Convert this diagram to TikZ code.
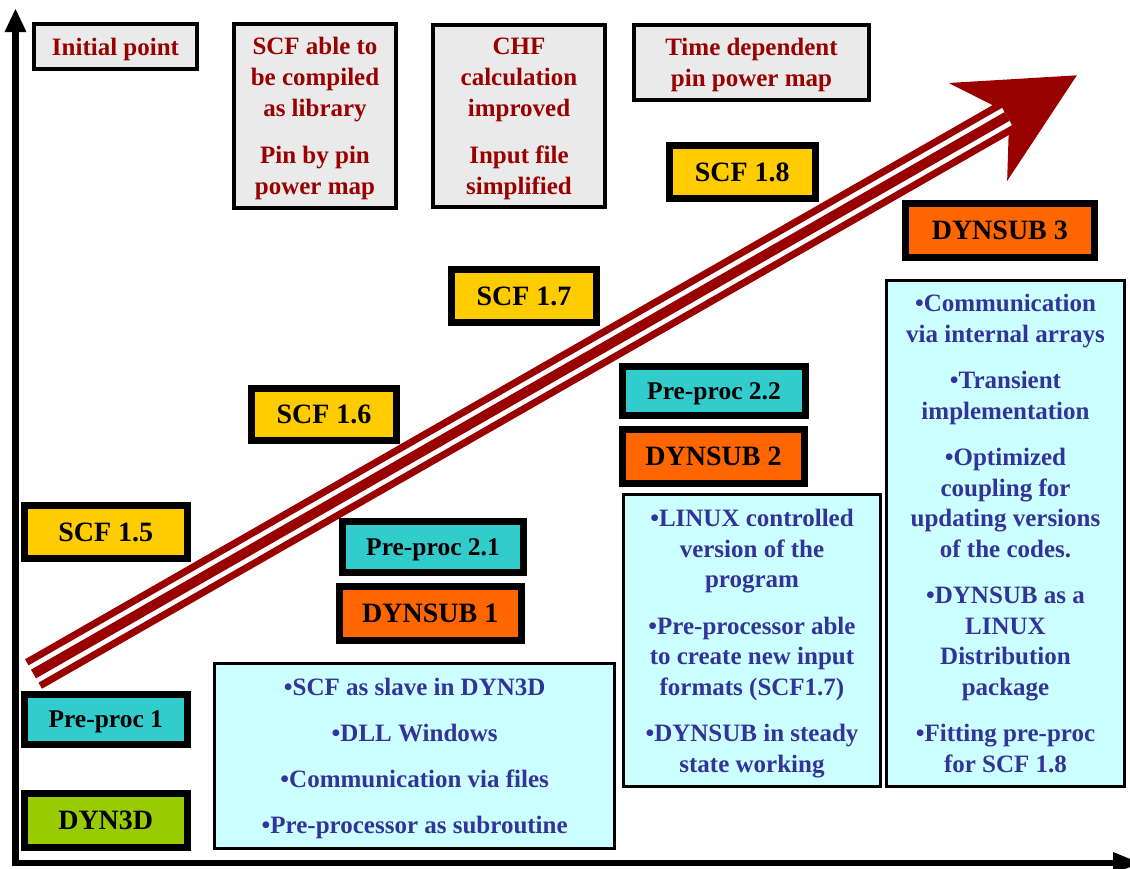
\documentclass[tikz,border=0pt]{standalone}
\usepackage{fontspec}
\setmainfont{Liberation Serif}
\definecolor{darkred}{HTML}{990000}
\definecolor{scfyellow}{HTML}{FFCC00}
\definecolor{preteal}{HTML}{33CCCC}
\definecolor{suborange}{HTML}{FF6600}
\definecolor{dyngreen}{HTML}{99CC00}
\definecolor{notecyan}{HTML}{CCFFFF}
\definecolor{notegray}{HTML}{EAEAEA}
\definecolor{noteblue}{HTML}{333399}
\begin{document}
\begin{tikzpicture}[x=1pt,y=-1pt,
  boxtext/.style={inner sep=0pt, align=center, text depth=-3pt},
  verbox/.style={boxtext, draw=black, line width=7pt,
    font=\fontsize{28}{30}\selectfont\bfseries},
  prebox/.style={verbox, fill=preteal, font=\fontsize{25.5}{30}\selectfont\bfseries},
  milestone/.style={boxtext, draw=black, line width=4pt, fill=notegray,
    text=darkred, font=\fontsize{25}{31}\selectfont\bfseries},
  featbox/.style={boxtext, draw=black, line width=3pt, fill=notecyan,
    text=noteblue, font=\fontsize{25}{30.5}\selectfont\bfseries}]
\useasboundingbox (0,0) rectangle (1130,868);

% axes
\coordinate (origin) at (15.5,863);
\coordinate (ytop) at (15.5,31);
\coordinate (xend) at (1118,863);
\draw[line width=6.5pt, line join=miter] (ytop) -- (origin) -- (xend);
\fill (15.5,9) -- (26.5,32) -- (4.5,32) -- cycle;
\fill (1140,863) -- (1113,852) -- (1113,874) -- cycle;

% striped progress arrow
\begin{scope}[shift={(33.5,674)}, rotate=29.8]
  \fill[darkred] (0,-17) rectangle (1122,-10);
  \fill[darkred] (0,-5) rectangle (1122,5);
  \fill[darkred] (0,10) rectangle (1122,17);
  \fill[darkred] (1088,-58) -- (1203,-1) -- (1090,56) -- (1114,17)
    -- (1122,10) -- (1122,-10) -- (1115,-17) -- cycle;
\end{scope}

% milestones
\node[milestone, minimum width=163pt, minimum height=45.3pt] (init) at (115.5,46.35) {Initial point};
\node[milestone, minimum width=162pt, minimum height=184.3pt] (lib) at (315,115.85)
  {SCF able to\\be compiled\\as library\\[16pt]Pin by pin\\power map};
\node[milestone, minimum width=172pt, minimum height=182.3pt] (chf) at (519,115.85)
  {CHF\\calculation\\improved\\[16pt]Input file\\simplified};
\node[milestone, minimum width=235pt, minimum height=75pt] (pinmap) at (751.5,62.2)
  {Time dependent\\pin power map};

% code versions
\node[verbox, fill=scfyellow, minimum width=163.5pt, minimum height=53pt] (scf15) at (105.75,532) {SCF 1.5};
\node[prebox, minimum width=163.5pt, minimum height=50pt] (pre1) at (105.75,719.5) {Pre-proc 1};
\node[verbox, fill=dyngreen, minimum width=163.5pt, minimum height=54pt] (dyn3d) at (105.75,820.5) {DYN3D};
\node[prebox, minimum width=181pt, minimum height=51pt] (pre21) at (433,547) {Pre-proc 2.1};
\node[verbox, fill=suborange, minimum width=181.5pt, minimum height=54pt] (sub1) at (430.25,613.5) {DYNSUB 1};
\node[verbox, fill=scfyellow, minimum width=145pt, minimum height=52pt] (scf16) at (324,414) {SCF 1.6};
\node[verbox, fill=scfyellow, minimum width=145pt, minimum height=53pt] (scf17) at (524,296) {SCF 1.7};
\node[verbox, fill=scfyellow, minimum width=146.5pt, minimum height=53.3pt] (scf18) at (742.25,171.85) {SCF 1.8};
\node[prebox, minimum width=183pt, minimum height=49.6pt] (pre22) at (714,391) {Pre-proc 2.2};
\node[verbox, fill=suborange, minimum width=182pt, minimum height=53.7pt] (sub2) at (713.5,456.35) {DYNSUB 2};
\node[verbox, fill=suborange, minimum width=189.3pt, minimum height=54pt] (sub3) at (999.85,230.5) {DYNSUB 3};

% feature lists
\node[featbox, minimum width=399.6pt, minimum height=185pt,
  font=\fontsize{25}{46}\selectfont\bfseries] (feat1) at (414.7,756)
  {•SCF as slave in DYN3D\\•DLL Windows\\•Communication via files\\•Pre-processor as subroutine};
\node[featbox, minimum width=257pt, minimum height=292pt] (feat2) at (752,640.8)
  {•LINUX controlled\\version of the\\program\\[16pt]•Pre-processor able\\to create new input\\formats (SCF1.7)\\[16pt]•DYNSUB in steady\\state working};
\node[featbox, minimum width=238pt, minimum height=506.5pt] (feat3) at (1005.5,533.25)
  {•Communication\\via internal arrays\\[16pt]•Transient\\implementation\\[16pt]•Optimized\\coupling for\\updating versions\\of the codes.\\[16pt]•DYNSUB as a\\LINUX\\Distribution\\package\\[16pt]•Fitting pre-proc\\for SCF 1.8};
\end{tikzpicture}
\end{document}
